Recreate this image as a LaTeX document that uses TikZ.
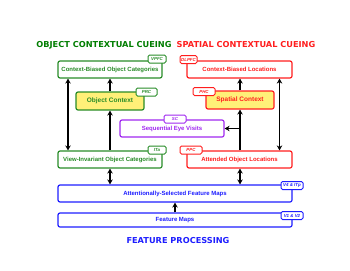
\documentclass[tikz,border=0pt]{standalone}
\usepackage{fontspec}
\setmainfont{Liberation Sans}
\newfontfamily\headfont{DejaVu Sans}
\usetikzlibrary{arrows.meta,positioning}
\definecolor{objgreen}{RGB}{40,140,40}
\definecolor{titgreen}{RGB}{0,125,0}
\definecolor{spred}{RGB}{255,30,30}
\definecolor{seqpurple}{RGB}{160,40,240}
\definecolor{featblue}{RGB}{30,30,255}
\definecolor{ctxyellow}{RGB}{255,240,120}

\begin{document}
\begin{tikzpicture}[x=1pt,y=-1pt,>={Stealth[length=5pt,width=5.5pt]}]
\tikzstyle{box}=[draw,rounded corners=2pt,line width=1.2pt,fill=white,inner sep=0pt,minimum height=17pt,font=\bfseries\fontsize{6}{7}\selectfont]
\tikzstyle{ctx}=[box,fill=ctxyellow,minimum width=68pt,minimum height=18pt,font=\bfseries\fontsize{6.5}{7.5}\selectfont]
\tikzstyle{tag}=[draw,rounded corners=1.5pt,line width=1pt,fill=white,inner sep=0.6pt,minimum height=8pt,font=\bfseries\itshape\fontsize{4.4}{5}\selectfont]
\tikzstyle{head}=[font=\headfont\bfseries\fontsize{8.2}{9}\selectfont]
\tikzstyle{link}=[line width=1.2pt,black]
\useasboundingbox (0,0) rectangle (350,270);
\node[head,titgreen] (oh) at (104,45) {OBJECT CONTEXTUAL CUEING};
\node[head,spred] (sh) at (246,45) {SPATIAL CONTEXTUAL CUEING};
\node[head,featblue] (fh) at (178,241) {FEATURE PROCESSING};
\node[objgreen,box,minimum width=104pt] (cboc) at (110,69.5) {Context-Biased Object Categories};
\node[objgreen,ctx] (oc) at (110,101) {Object Context};
\node[objgreen,box,minimum width=104pt] (vioc) at (110,159.5) {View-Invariant Object Categories};
\node[spred,box,minimum width=105pt] (cbl) at (239.5,69.5) {Context-Biased Locations};
\node[spred,ctx] (spc) at (240,100) {Spatial Context};
\node[spred,box,minimum width=105pt] (aol) at (239.5,159.5) {Attended Object Locations};
\node[seqpurple,box,minimum width=104pt] (sc) at (172,128.5) {Sequential Eye Visits};
\node[featblue,box,minimum width=234pt] (asfm) at (175,193.5) {Attentionally-Selected Feature Maps};
\node[featblue,box,minimum width=234pt,minimum height=14pt] (fm) at (175,220) {Feature Maps};
\node[objgreen,tag,minimum width=18pt] (vpfc) at (157,59) {VPFC};
\node[objgreen,tag,minimum width=21pt] (prc) at (146.5,92) {PRC};
\node[objgreen,tag,minimum width=18pt] (ita) at (157,150) {ITa};
\node[spred,tag,minimum width=17pt] (dlpfc) at (188.5,59.5) {DLPFC};
\node[spred,tag,minimum width=22pt] (phc) at (204,91.5) {PHC};
\node[spred,tag,minimum width=22pt] (ppc) at (191,150) {PPC};
\node[seqpurple,tag,minimum width=22pt] (sct) at (175,119) {SC};
\node[featblue,tag,minimum width=22pt] (v4) at (292,185.5) {V4 \& ITp};
\node[featblue,tag,minimum width=22pt] (v1) at (292,215.5) {V1 \& V2};
\draw[link,<->] ([xshift=-42pt]cboc.south) -- ([xshift=-42pt]vioc.north);
\draw[link,->] (vioc.north) -- (oc.south); \draw[link,->] (oc.north) -- (cboc.south);
\draw[link,<->] (vioc.south) -- (vioc.south |- asfm.north);
\draw[link,->] (aol.north -| spc.south) -- (spc.south); \draw[link,->] (spc.north) -- (spc.north |- cbl.south);
\draw[link,->] (spc.south |- sc.east) -- (sc.east);
\draw[link,<->] ([xshift=40pt]cbl.south) -- ([xshift=40pt]aol.north);
\draw[link,<->] (aol.south -| spc.south) -- (spc.south |- asfm.north);
\draw[link,->] (fm.north) -- (asfm.south);
\end{tikzpicture}
\end{document}
